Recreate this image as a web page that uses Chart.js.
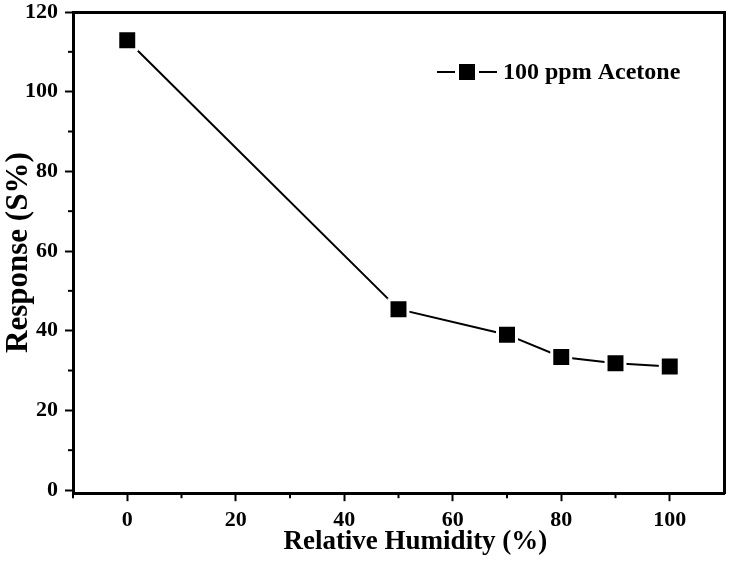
<!DOCTYPE html>
<html>
<head>
<meta charset="utf-8">
<script src="https://cdn.jsdelivr.net/npm/chart.js@4.4.1/dist/chart.umd.min.js"></script>
<style>
  html, body { margin: 0; padding: 0; background: #fff; }
  #wrap { width: 729px; height: 569px; }
</style>
</head>
<body>
<div id="wrap"><canvas id="humidityChart"></canvas></div>
<script>
// values
const humidity = [0, 50, 70, 80, 90, 100];
const response = [112.9, 45.4, 39.0, 33.4, 31.8, 31.0];
const seriesLabel = "100 ppm Acetone";
const xTickValues = [0, 20, 40, 60, 80, 100];
const yTickValues = [0, 20, 40, 60, 80, 100, 120];
const xMinorTicks = [-10, 10, 30, 50, 70, 90];
const yMinorTicks = [10, 30, 50, 70, 90, 110];

const serif = "'Liberation Serif', 'Times New Roman', serif";

// short outside ticks between the labelled ones
const minorTicks = {
    id: "minorTicks",
    afterDraw(chart) {
        const ctx = chart.ctx;
        const x = chart.scales.x, y = chart.scales.y;
        const area = chart.chartArea;
        ctx.save();
        ctx.strokeStyle = "#000";
        ctx.lineWidth = 2;
        xMinorTicks.forEach(v => {
            const px = x.getPixelForValue(v);
            ctx.beginPath();
            ctx.moveTo(px, area.bottom);
            ctx.lineTo(px, area.bottom + 5);
            ctx.stroke();
        });
        yMinorTicks.forEach(v => {
            const py = y.getPixelForValue(v);
            ctx.beginPath();
            ctx.moveTo(area.left, py);
            ctx.lineTo(area.left - 5, py);
            ctx.stroke();
        });
        ctx.restore();
    }
};

// legend drawn inside the plot, Origin style: line - square - line
const insideLegend = {
    id: "insideLegend",
    afterDraw(chart) {
        const ctx = chart.ctx;
        const area = chart.chartArea;
        const x0 = area.left + 364;
        const cy = area.top + 60;
        ctx.save();
        ctx.strokeStyle = "#000";
        ctx.lineWidth = 2;
        ctx.beginPath();
        ctx.moveTo(x0, cy);
        ctx.lineTo(x0 + 60, cy);
        ctx.stroke();
        ctx.fillStyle = "#fff";
        ctx.fillRect(x0 + 18, cy - 11, 24, 22);
        ctx.fillStyle = "#000";
        ctx.fillRect(x0 + 22, cy - 8, 16, 16);
        ctx.font = "bold 24px " + serif;
        ctx.textBaseline = "middle";
        ctx.fillText(chart.data.datasets[0].label, x0 + 66, cy + 1);
        ctx.restore();
    }
};

const ctxHumidity = document.getElementById("humidityChart");

const dataHumidity = {
    datasets: [{
        label: seriesLabel,
        data: humidity.map((h, i) => ({ x: h, y: response[i] })),
        borderColor: "#000",
        borderWidth: 2,
        backgroundColor: "#000",
        pointStyle: "rect",
        pointRadius: 13.4,
        pointHoverRadius: 13.4,
        pointBackgroundColor: "#000",
        pointBorderColor: "#fff",
        pointBorderWidth: 3,
        tension: 0
    }]
};

// frame axes: border line only, no room taken
const frameAxis = (position, min, max) => ({
    type: "linear",
    position: position,
    min: min,
    max: max,
    ticks: { display: false },
    grid: { display: false, drawTicks: false },
    border: { color: "#000", width: 3 },
    afterFit(scale) {
        if (scale.isHorizontal()) scale.height = 0;
        else scale.width = 0;
        scale.paddingTop = scale.paddingBottom = scale.paddingLeft = scale.paddingRight = 0;
    }
});

const configHumidity = {
    type: "line",
    data: dataHumidity,
    options: {
        responsive: true,
        maintainAspectRatio: false,
        animation: false,
        layout: { autoPadding: false, padding: { top: 12, right: 5, left: 0, bottom: 11 } },
        plugins: {
            legend: { display: false },
            tooltip: { enabled: false }
        },
        scales: {
            x: {
                type: "linear",
                position: "bottom",
                min: -10,
                max: 110,
                afterBuildTicks(scale) {
                    scale.ticks = xTickValues.map(v => ({ value: v }));
                },
                afterFit(scale) {
                    scale.paddingLeft = 0;
                    scale.paddingRight = 0;
                },
                ticks: {
                    color: "#000",
                    padding: 6,
                    font: { family: serif, size: 22, weight: "bold" }
                },
                grid: {
                    drawOnChartArea: false,
                    drawTicks: true,
                    tickLength: 8,
                    tickWidth: 2,
                    tickColor: "#000"
                },
                border: { color: "#000", width: 3 },
                title: {
                    display: true,
                    // leading spaces nudge the title right, as in the original
                    text: "     Relative Humidity (%)",
                    color: "#000",
                    padding: { top: -14, bottom: 0 },
                    font: { family: serif, size: 27, weight: "bold" }
                }
            },
            y: {
                type: "linear",
                position: "left",
                min: -0.8,
                max: 120,
                afterBuildTicks(scale) {
                    scale.ticks = yTickValues.map(v => ({ value: v }));
                },
                ticks: {
                    color: "#000",
                    padding: 7,
                    font: { family: serif, size: 22, weight: "bold" }
                },
                grid: {
                    drawOnChartArea: false,
                    drawTicks: true,
                    tickLength: 8,
                    tickWidth: 2,
                    tickColor: "#000"
                },
                border: { color: "#000", width: 3 },
                title: {
                    display: true,
                    text: "Response (S%)",
                    color: "#000",
                    padding: { top: 0, bottom: 4 },
                    font: { family: serif, size: 31, weight: "bold" }
                },
                afterFit(scale) {
                    scale.width = 73;
                    scale.paddingTop = 0;
                    scale.paddingBottom = 0;
                }
            },
            xTop: frameAxis("top", -10, 110),
            yRight: frameAxis("right", -0.8, 120)
        }
    },
    plugins: [minorTicks, insideLegend]
};

new Chart(ctxHumidity, configHumidity);
</script>
</body>
</html>
